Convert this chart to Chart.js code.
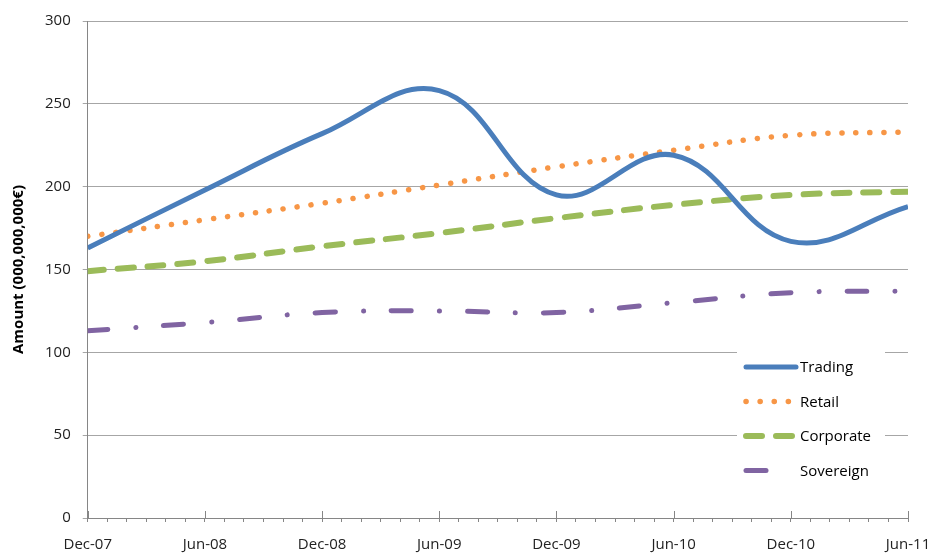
<!DOCTYPE html>
<html>
<head>
<meta charset="utf-8">
<script src="https://cdn.jsdelivr.net/npm/chart.js@4/dist/chart.umd.min.js"></script>
<style>
  html, body { margin: 0; padding: 0; background: #fff; }
  #wrap { width: 933px; height: 556px; }
</style>
</head>
<body>
<div id="wrap"><canvas id="chart" width="933" height="556"></canvas></div>
<script>
// months since Dec-07, one point every half year
const months = [0, 6, 12, 18, 24, 30, 36, 42];
const tickLabels = ['Dec-07', 'Jun-08', 'Dec-08', 'Jun-09', 'Dec-09', 'Jun-10', 'Dec-10', 'Jun-11'];

const trading   = [163, 198, 232, 258, 195, 219, 167, 188];
const retail    = [170, 180, 190, 201, 212, 222, 231, 233];
const corporate = [149, 155, 164, 172, 181, 189, 195, 197];
const sovereign = [113, 118, 124, 125, 124, 130, 136, 137];

const yTicks = [0, 50, 100, 150, 200, 250, 300];

const FONT = '"Open Sans", sans-serif';

function points(values) {
  return values.map((v, i) => ({ x: months[i], y: v }));
}

// major x ticks stick up above the axis as well
const majorTicks = {
  id: 'majorTicks',
  afterDraw(chart) {
    const ctx = chart.ctx;
    const x = chart.scales.x;
    const bottom = chart.chartArea.bottom;
    ctx.save();
    ctx.strokeStyle = '#868686';
    ctx.lineWidth = 1;
    months.forEach(m => {
      const px = Math.round(x.getPixelForValue(m)) + 0.5;
      ctx.beginPath();
      ctx.moveTo(px, bottom - 7);
      ctx.lineTo(px, bottom);
      ctx.stroke();
    });
    ctx.restore();
  }
};

// legend box sitting inside the plot, bottom right
const boxLegend = {
  id: 'boxLegend',
  afterDatasetsDraw(chart) {
    const ctx = chart.ctx;
    const left = 737, top = 346;
    ctx.save();
    ctx.fillStyle = '#fff';
    ctx.fillRect(left, top, 148, 140);
    ctx.font = '15px ' + FONT;
    ctx.textBaseline = 'middle';
    chart.data.datasets.forEach((ds, i) => {
      const y = 367 + i * 34.5;
      const len = i === 3 ? 27 : 50;
      ctx.strokeStyle = ds.borderColor;
      ctx.lineWidth = ds.borderWidth;
      ctx.lineCap = 'round';
      ctx.setLineDash(ds.borderDash || []);
      ctx.beginPath();
      ctx.moveTo(746, y);
      ctx.lineTo(746 + len, y);
      ctx.stroke();
      ctx.setLineDash([]);
      ctx.fillStyle = '#000';
      ctx.fillText(ds.label, 800, y + 1);
    });
    ctx.restore();
  }
};

new Chart(document.getElementById('chart'), {
  type: 'line',
  data: {
    datasets: [
      {
        label: 'Trading',
        data: points(trading),
        borderColor: '#4a7ebb',
        borderWidth: 5,
        tension: 0.4
      },
      {
        label: 'Retail',
        data: points(retail),
        borderColor: '#f79646',
        borderWidth: 5.5,
        borderDash: [0.1, 14],
        borderCapStyle: 'round',
        tension: 0.4
      },
      {
        label: 'Corporate',
        data: points(corporate),
        borderColor: '#9bbb59',
        borderWidth: 6,
        borderDash: [16, 14],
        borderCapStyle: 'round',
        tension: 0.4
      },
      {
        label: 'Sovereign',
        data: points(sovereign),
        borderColor: '#8064a2',
        borderWidth: 5,
        borderDash: [20, 28, 0.1, 28],
        borderCapStyle: 'round',
        tension: 0.4
      }
    ]
  },
  options: {
    responsive: false,
    animation: false,
    layout: { padding: { top: 14, right: 2, left: 6, bottom: 0 } },
    elements: { point: { radius: 0 } },
    plugins: {
      legend: { display: false },
      tooltip: { enabled: false }
    },
    scales: {
      x: {
        type: 'linear',
        min: 0,
        max: 42,
        grid: { drawOnChartArea: false, drawTicks: true, tickLength: 4, color: '#868686' },
        border: { color: '#868686' },
        ticks: {
          stepSize: 1,
          autoSkip: false,
          maxRotation: 0,
          padding: 14,
          color: '#222',
          font: { family: FONT, size: 15 },
          callback: (v) => {
            const i = months.indexOf(v);
            return i >= 0 ? tickLabels[i] : '';
          }
        },
        afterFit: (scale) => {
          scale.height = 38;
          scale.paddingRight = 25;
        }
      },
      y: {
        min: 0,
        max: 300,
        afterBuildTicks: (axis) => { axis.ticks = yTicks.map(v => ({ value: v })); },
        grid: { color: '#a6a6a6', tickLength: 5 },
        border: { color: '#868686' },
        ticks: {
          padding: 12,
          color: '#222',
          font: { family: FONT, size: 15 }
        },
        title: {
          display: true,
          text: 'Amount (000,000,000€)',
          color: '#000',
          padding: { top: 4, bottom: 5 },
          font: { family: FONT, size: 15, weight: 'bold' }
        }
      }
    }
  },
  plugins: [majorTicks, boxLegend]
});
</script>
</body>
</html>
